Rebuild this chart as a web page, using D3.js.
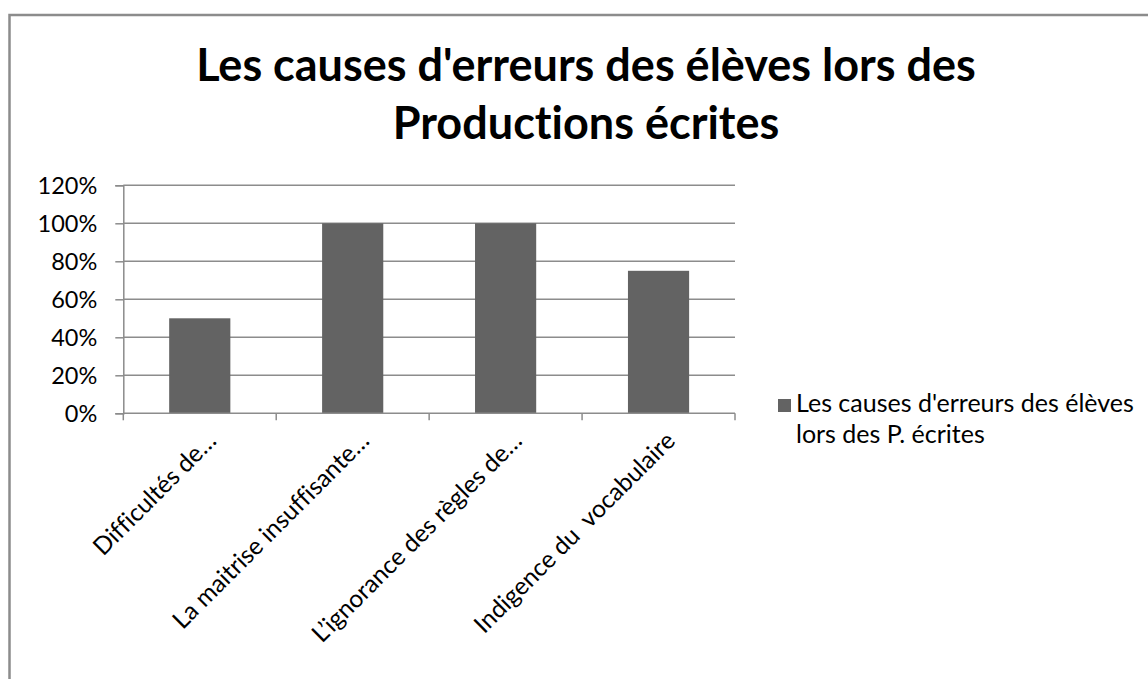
<!DOCTYPE html>
<html lang="fr">
<head>
<meta charset="UTF-8">
<script src="https://d3js.org/d3.v7.min.js"></script>
<title>Les causes d'erreurs</title>
<style>
  body { margin: 0; background: #fff; }
  text { font-family: Lato, "Open Sans", sans-serif; fill: #000; font-variant-ligatures: none; white-space: pre; }
</style>
</head>
<body>
<div id="chart"></div>
<script>
// data
const categories = [
  "Difficultés de…",
  "La maitrise insuffisante…",
  "L’ignorance des règles de…",
  "Indigence du  vocabulaire"
];
const values = [0.50, 1.00, 1.00, 0.75];
const yTicks = [0, 0.2, 0.4, 0.6, 0.8, 1.0, 1.2];
const titleLines = ["Les causes d'erreurs des élèves lors des", "Productions écrites"];
const legendLines = ["Les causes d'erreurs des élèves", "lors des P. écrites"];

const width = 1148, height = 679;
const plot = { left: 123.3, right: 735, top: 185.3, bottom: 413.3 };
const grey = "#8c8c8c", barColor = "#636363";

const svg = d3.select("#chart").append("svg")
  .attr("width", width)
  .attr("height", height);

svg.append("rect").attr("width", width).attr("height", height).attr("fill", "#fff");

// chart border (right/bottom edges fall outside the picture)
svg.append("rect")
  .attr("x", 9.5).attr("y", 15)
  .attr("width", 1200).attr("height", 700)
  .attr("fill", "none")
  .attr("stroke", grey)
  .attr("stroke-width", 2.5);

// title
svg.append("g").selectAll("text")
  .data(titleLines)
  .enter().append("text")
  .attr("x", 586)
  .attr("y", (d, i) => 81 + i * 58)
  .attr("text-anchor", "middle")
  .attr("font-size", "45px")
  .attr("font-weight", "bold")
  .text(d => d);

const x = d3.scaleBand()
  .domain(categories)
  .range([plot.left, plot.right])
  .padding(0);

const y = d3.scaleLinear()
  .domain([0, 1.2])
  .range([plot.bottom, plot.top]);

// gridlines
svg.append("g").selectAll("line")
  .data(yTicks.slice(1))
  .enter().append("line")
  .attr("x1", plot.left).attr("x2", plot.right)
  .attr("y1", d => y(d)).attr("y2", d => y(d))
  .attr("stroke", grey).attr("stroke-width", 1.5);

// y axis
const yAxis = svg.append("g")
  .attr("transform", `translate(${plot.left},0)`)
  .call(d3.axisLeft(y).tickValues(yTicks).tickSize(8).tickPadding(18).tickFormat(d3.format(".0%")));
yAxis.select(".domain").attr("stroke", grey).attr("stroke-width", 1.5);
yAxis.selectAll(".tick line").attr("stroke", grey).attr("stroke-width", 1.5);
yAxis.selectAll(".tick text")
  .attr("font-size", "23.5px")
  .attr("font-family", "Lato, sans-serif")
  .attr("fill", "#000")
  .attr("dy", "0.35em");

// bars
svg.append("g").selectAll("rect")
  .data(values)
  .enter().append("rect")
  .attr("x", (d, i) => x(categories[i]) + x.bandwidth() * 0.3)
  .attr("width", x.bandwidth() * 0.4)
  .attr("y", d => y(d))
  .attr("height", d => y(0) - y(d))
  .attr("fill", barColor);

// x axis
svg.append("line")
  .attr("x1", plot.left).attr("x2", plot.right)
  .attr("y1", y(0)).attr("y2", y(0))
  .attr("stroke", grey).attr("stroke-width", 1.5);

const bounds = categories.map(c => x(c)).concat([x(categories[categories.length - 1]) + x.bandwidth()]);
svg.append("g").selectAll("line")
  .data(bounds)
  .enter().append("line")
  .attr("x1", d => d).attr("x2", d => d)
  .attr("y1", y(0)).attr("y2", y(0) + 7)
  .attr("stroke", grey).attr("stroke-width", 1.5);

svg.append("g").selectAll("text")
  .data(categories)
  .enter().append("text")
  .attr("transform", d => `translate(${x(d) + x.bandwidth() / 2 + 18},${y(0) + 29}) rotate(-45)`)
  .attr("text-anchor", "end")
  .attr("font-size", "24.5px")
  .text(d => d);

// legend
const legend = svg.append("g");
legend.append("rect")
  .attr("x", 778).attr("y", 399)
  .attr("width", 13).attr("height", 13)
  .attr("fill", barColor);
legend.selectAll("text")
  .data(legendLines)
  .enter().append("text")
  .attr("x", 796)
  .attr("y", (d, i) => 412 + i * 31)
  .attr("font-size", "25px")
  .text(d => d);
</script>
</body>
</html>
